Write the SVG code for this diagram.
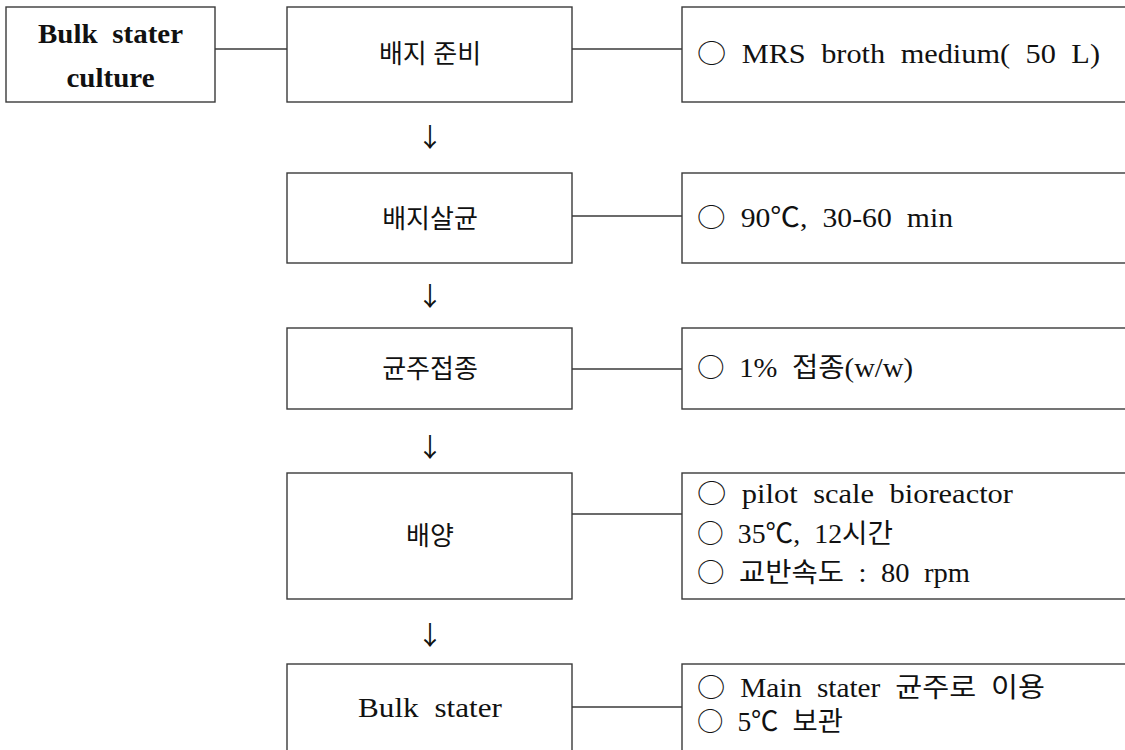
<svg xmlns="http://www.w3.org/2000/svg" width="1125" height="750" viewBox="0 0 1125 750">
<style>
.box{fill:#fff;stroke:#3a3a3a;stroke-width:1.4}
.ln{stroke:#3a3a3a;stroke-width:1.4;fill:none}
.t{font-family:"Liberation Serif","Noto Sans CJK KR",serif;font-size:27px;fill:#111;word-spacing:7px}
.k{font-family:"Liberation Serif","Noto Sans CJK KR",serif;font-size:26px;fill:#111}
.o{font-family:"Noto Sans CJK KR",sans-serif;font-size:26px}
.c{text-anchor:middle}
.b{font-weight:bold}
.ar{font-family:"Noto Sans CJK KR",sans-serif;font-size:26px;fill:#111;text-anchor:middle}
</style>
<rect width="1125" height="750" fill="#fff"/>
<g id="connectors">
<line class="ln" x1="215" y1="49" x2="287" y2="49"/>
<line class="ln" x1="572" y1="49" x2="682" y2="49"/>
<line class="ln" x1="572" y1="216" x2="682" y2="216"/>
<line class="ln" x1="572" y1="369" x2="682" y2="369"/>
<line class="ln" x1="572" y1="514" x2="682" y2="514"/>
<line class="ln" x1="572" y1="707" x2="682" y2="707"/>
<text class="ar" x="430" y="147">↓</text>
<text class="ar" x="430" y="306">↓</text>
<text class="ar" x="430" y="457">↓</text>
<text class="ar" x="430" y="645">↓</text>
</g>
<g id="bulk-culture">
<rect class="box" x="6" y="7" width="209" height="95"/>
<text class="t c b" x="110.5" y="43" textLength="145" lengthAdjust="spacingAndGlyphs">Bulk stater</text>
<text class="t c b" x="110.5" y="87" textLength="88" lengthAdjust="spacingAndGlyphs">culture</text>
</g>
<g id="step1">
<rect class="box" x="287" y="7" width="285" height="95"/>
<text class="k c" x="430" y="63">배지 준비</text>
</g>
<g id="note1">
<rect class="box" x="682" y="7" width="460" height="95"/>
<text class="t" x="697" y="63" textLength="403" lengthAdjust="spacingAndGlyphs"><tspan class="o">○</tspan> MRS broth medium( 50 L)</text>
</g>
<g id="step2">
<rect class="box" x="287" y="173" width="285" height="90"/>
<text class="k c" x="430" y="228">배지살균</text>
</g>
<g id="note2">
<rect class="box" x="682" y="173" width="460" height="90"/>
<text class="t" x="697" y="227" textLength="256" lengthAdjust="spacingAndGlyphs"><tspan class="o">○</tspan> 90℃, 30-60 min</text>
</g>
<g id="step3">
<rect class="box" x="287" y="328" width="285" height="81"/>
<text class="k c" x="430" y="378">균주접종</text>
</g>
<g id="note3">
<rect class="box" x="682" y="328" width="460" height="81"/>
<text class="t" x="697" y="377" textLength="216" lengthAdjust="spacingAndGlyphs"><tspan class="o">○</tspan> 1% 접종(w/w)</text>
</g>
<g id="step4">
<rect class="box" x="287" y="473" width="285" height="126"/>
<text class="k c" x="430" y="545">배양</text>
</g>
<g id="note4">
<rect class="box" x="682" y="473" width="460" height="126"/>
<text class="t" x="697" y="503" textLength="316" lengthAdjust="spacingAndGlyphs"><tspan class="o">○</tspan> pilot scale bioreactor</text>
<text class="t" x="697" y="543" textLength="196" lengthAdjust="spacingAndGlyphs"><tspan class="o">○</tspan> 35℃, 12시간</text>
<text class="t" x="697" y="582" textLength="273" lengthAdjust="spacingAndGlyphs"><tspan class="o">○</tspan> 교반속도 : 80 rpm</text>
</g>
<g id="step5">
<rect class="box" x="287" y="664" width="285" height="100"/>
<text class="t c" x="430" y="717" textLength="144" lengthAdjust="spacingAndGlyphs">Bulk stater</text>
</g>
<g id="note5">
<rect class="box" x="682" y="664" width="460" height="100"/>
<text class="t" x="697" y="697" textLength="348" lengthAdjust="spacingAndGlyphs"><tspan class="o">○</tspan> Main stater 균주로 이용</text>
<text class="t" x="697" y="731" textLength="146" lengthAdjust="spacingAndGlyphs"><tspan class="o">○</tspan> 5℃ 보관</text>
</g>
</svg>
